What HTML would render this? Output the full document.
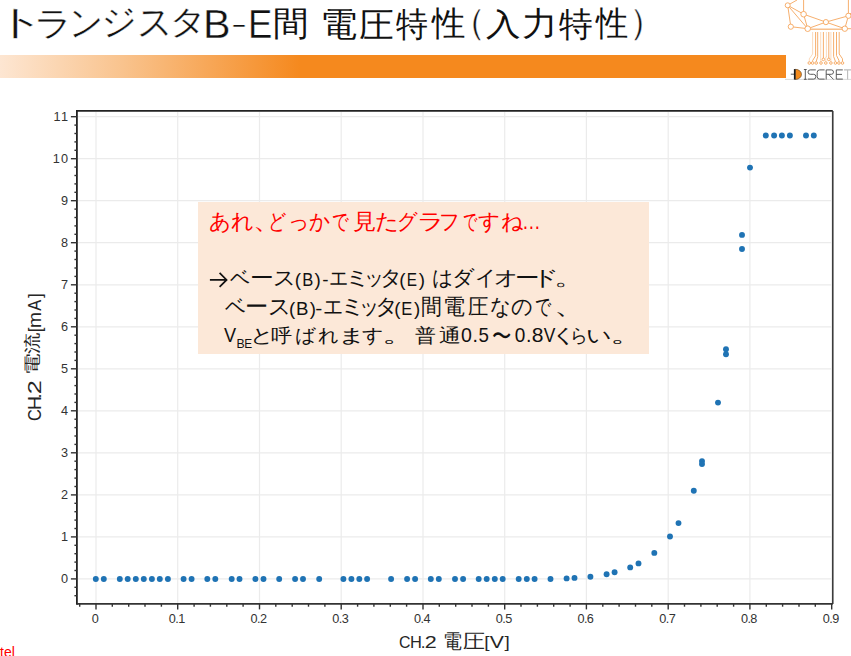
<!DOCTYPE html>
<html><head><meta charset="utf-8">
<style>
html,body{margin:0;padding:0;background:#fff;}
body{width:851px;height:656px;position:relative;overflow:hidden;font-family:"Liberation Sans",sans-serif;}
.abs{position:absolute;white-space:nowrap;}
.g{position:absolute;font-size:100px;line-height:1;white-space:pre;transform-origin:0 0;}
#title .g{color:#111;}
#title .k{-webkit-text-stroke:1px #fff;}
#bar{left:0;top:55px;width:786px;height:23px;background:linear-gradient(to right,#fde6d2 0px,#f9c48f 120px,#f5891e 300px,#f5891e 786px);}
#box{left:198px;top:202px;width:451px;height:152px;background:#fce8d8;}
svg{position:absolute;left:0;top:0;}
#tel{left:0;top:643.7px;font-size:14px;color:#ff0000;}
</style></head><body>
<div id="title"><span class="g k" style="left:-4.81px;top:4.44px;transform:matrix(0.4974,0,0,0.3506,0,0)">ト</span><span class="g k" style="left:33.91px;top:5.55px;transform:matrix(0.3808,0,0,0.3390,0,0)">ラ</span><span class="g k" style="left:68.64px;top:4.55px;transform:matrix(0.3354,0,0,0.3581,0,0)">ン</span><span class="g k" style="left:100.63px;top:3.32px;transform:matrix(0.3519,0,0,0.3598,0,0)">ジ</span><span class="g k" style="left:136.58px;top:2.65px;transform:matrix(0.3519,0,0,0.3794,0,0)">ス</span><span class="g k" style="left:168.52px;top:5.47px;transform:matrix(0.3732,0,0,0.3333,0,0)">タ</span><span class="g k" style="left:202.89px;top:3.36px;transform:matrix(0.4132,0,0,0.4087,0,0)">B</span><span class="g k" style="left:231.08px;top:10.52px;transform:matrix(0.4800,0,0,0.2625,0,0)">-</span><span class="g k" style="left:248.48px;top:3.36px;transform:matrix(0.3648,0,0,0.4087,0,0)">E</span><span class="g" style="left:273.13px;top:6.09px;transform:matrix(0.3616,0,0,0.3446,0,0)">間</span><span class="g" style="left:320.28px;top:6.67px;transform:matrix(0.3724,0,0,0.3389,0,0)">電</span><span class="g" style="left:358.95px;top:6.79px;transform:matrix(0.3484,0,0,0.3518,0,0)">圧</span><span class="g" style="left:395.90px;top:6.78px;transform:matrix(0.3206,0,0,0.3411,0,0)">特</span><span class="g" style="left:432.38px;top:6.42px;transform:matrix(0.3388,0,0,0.3447,0,0)">性</span><span class="g k" style="left:449.87px;top:2.73px;transform:matrix(0.3605,0,0,0.3605,0,0)">（</span><span class="g" style="left:486.01px;top:8.58px;transform:matrix(0.3457,0,0,0.3092,0,0)">入</span><span class="g" style="left:522.37px;top:6.60px;transform:matrix(0.3580,0,0,0.3340,0,0)">力</span><span class="g" style="left:559.00px;top:6.78px;transform:matrix(0.3381,0,0,0.3411,0,0)">特</span><span class="g" style="left:595.56px;top:6.42px;transform:matrix(0.3276,0,0,0.3447,0,0)">性</span><span class="g k" style="left:628.59px;top:2.73px;transform:matrix(0.3605,0,0,0.3605,0,0)">）</span></div>
<div id="bar" class="abs"></div>
<svg width="851" height="656" viewBox="0 0 851 656">
<line x1="96.0" y1="111.9" x2="96.0" y2="602.9" stroke="#ebebeb" stroke-width="1.2"/>
<line x1="177.7" y1="111.9" x2="177.7" y2="602.9" stroke="#ebebeb" stroke-width="1.2"/>
<line x1="259.5" y1="111.9" x2="259.5" y2="602.9" stroke="#ebebeb" stroke-width="1.2"/>
<line x1="341.2" y1="111.9" x2="341.2" y2="602.9" stroke="#ebebeb" stroke-width="1.2"/>
<line x1="423.0" y1="111.9" x2="423.0" y2="602.9" stroke="#ebebeb" stroke-width="1.2"/>
<line x1="504.7" y1="111.9" x2="504.7" y2="602.9" stroke="#ebebeb" stroke-width="1.2"/>
<line x1="586.4" y1="111.9" x2="586.4" y2="602.9" stroke="#ebebeb" stroke-width="1.2"/>
<line x1="668.2" y1="111.9" x2="668.2" y2="602.9" stroke="#ebebeb" stroke-width="1.2"/>
<line x1="749.9" y1="111.9" x2="749.9" y2="602.9" stroke="#ebebeb" stroke-width="1.2"/>
<line x1="831.7" y1="111.9" x2="831.7" y2="602.9" stroke="#ebebeb" stroke-width="1.2"/>
<line x1="77.9" y1="578.9" x2="831.8" y2="578.9" stroke="#ebebeb" stroke-width="1.2"/>
<line x1="77.9" y1="536.9" x2="831.8" y2="536.9" stroke="#ebebeb" stroke-width="1.2"/>
<line x1="77.9" y1="494.9" x2="831.8" y2="494.9" stroke="#ebebeb" stroke-width="1.2"/>
<line x1="77.9" y1="452.8" x2="831.8" y2="452.8" stroke="#ebebeb" stroke-width="1.2"/>
<line x1="77.9" y1="410.8" x2="831.8" y2="410.8" stroke="#ebebeb" stroke-width="1.2"/>
<line x1="77.9" y1="368.8" x2="831.8" y2="368.8" stroke="#ebebeb" stroke-width="1.2"/>
<line x1="77.9" y1="326.8" x2="831.8" y2="326.8" stroke="#ebebeb" stroke-width="1.2"/>
<line x1="77.9" y1="284.8" x2="831.8" y2="284.8" stroke="#ebebeb" stroke-width="1.2"/>
<line x1="77.9" y1="242.7" x2="831.8" y2="242.7" stroke="#ebebeb" stroke-width="1.2"/>
<line x1="77.9" y1="200.7" x2="831.8" y2="200.7" stroke="#ebebeb" stroke-width="1.2"/>
<line x1="77.9" y1="158.7" x2="831.8" y2="158.7" stroke="#ebebeb" stroke-width="1.2"/>
<line x1="77.9" y1="116.7" x2="831.8" y2="116.7" stroke="#ebebeb" stroke-width="1.2"/>
</svg>
<div id="box" class="abs"></div>
<svg width="851" height="656" viewBox="0 0 851 656">
<line x1="76.9" y1="110.9" x2="832.8" y2="110.9" stroke="#222" stroke-width="1.6"/>
<line x1="832.8" y1="110.9" x2="832.8" y2="603.9" stroke="#333" stroke-width="1.5"/>
<line x1="76.9" y1="110.1" x2="76.9" y2="604.7" stroke="#222" stroke-width="1.8"/>
<line x1="76.9" y1="603.9" x2="832.8" y2="603.9" stroke="#333" stroke-width="1.6"/>
<line x1="74.4" y1="595.7" x2="76.9" y2="595.7" stroke="#333" stroke-width="1.4"/>
<line x1="74.4" y1="587.3" x2="76.9" y2="587.3" stroke="#333" stroke-width="1.4"/>
<line x1="70.9" y1="578.9" x2="76.9" y2="578.9" stroke="#333" stroke-width="1.4"/>
<line x1="74.4" y1="570.5" x2="76.9" y2="570.5" stroke="#333" stroke-width="1.4"/>
<line x1="74.4" y1="562.1" x2="76.9" y2="562.1" stroke="#333" stroke-width="1.4"/>
<line x1="74.4" y1="553.7" x2="76.9" y2="553.7" stroke="#333" stroke-width="1.4"/>
<line x1="74.4" y1="545.3" x2="76.9" y2="545.3" stroke="#333" stroke-width="1.4"/>
<line x1="70.9" y1="536.9" x2="76.9" y2="536.9" stroke="#333" stroke-width="1.4"/>
<line x1="74.4" y1="528.5" x2="76.9" y2="528.5" stroke="#333" stroke-width="1.4"/>
<line x1="74.4" y1="520.1" x2="76.9" y2="520.1" stroke="#333" stroke-width="1.4"/>
<line x1="74.4" y1="511.7" x2="76.9" y2="511.7" stroke="#333" stroke-width="1.4"/>
<line x1="74.4" y1="503.3" x2="76.9" y2="503.3" stroke="#333" stroke-width="1.4"/>
<line x1="70.9" y1="494.9" x2="76.9" y2="494.9" stroke="#333" stroke-width="1.4"/>
<line x1="74.4" y1="486.5" x2="76.9" y2="486.5" stroke="#333" stroke-width="1.4"/>
<line x1="74.4" y1="478.1" x2="76.9" y2="478.1" stroke="#333" stroke-width="1.4"/>
<line x1="74.4" y1="469.6" x2="76.9" y2="469.6" stroke="#333" stroke-width="1.4"/>
<line x1="74.4" y1="461.2" x2="76.9" y2="461.2" stroke="#333" stroke-width="1.4"/>
<line x1="70.9" y1="452.8" x2="76.9" y2="452.8" stroke="#333" stroke-width="1.4"/>
<line x1="74.4" y1="444.4" x2="76.9" y2="444.4" stroke="#333" stroke-width="1.4"/>
<line x1="74.4" y1="436.0" x2="76.9" y2="436.0" stroke="#333" stroke-width="1.4"/>
<line x1="74.4" y1="427.6" x2="76.9" y2="427.6" stroke="#333" stroke-width="1.4"/>
<line x1="74.4" y1="419.2" x2="76.9" y2="419.2" stroke="#333" stroke-width="1.4"/>
<line x1="70.9" y1="410.8" x2="76.9" y2="410.8" stroke="#333" stroke-width="1.4"/>
<line x1="74.4" y1="402.4" x2="76.9" y2="402.4" stroke="#333" stroke-width="1.4"/>
<line x1="74.4" y1="394.0" x2="76.9" y2="394.0" stroke="#333" stroke-width="1.4"/>
<line x1="74.4" y1="385.6" x2="76.9" y2="385.6" stroke="#333" stroke-width="1.4"/>
<line x1="74.4" y1="377.2" x2="76.9" y2="377.2" stroke="#333" stroke-width="1.4"/>
<line x1="70.9" y1="368.8" x2="76.9" y2="368.8" stroke="#333" stroke-width="1.4"/>
<line x1="74.4" y1="360.4" x2="76.9" y2="360.4" stroke="#333" stroke-width="1.4"/>
<line x1="74.4" y1="352.0" x2="76.9" y2="352.0" stroke="#333" stroke-width="1.4"/>
<line x1="74.4" y1="343.6" x2="76.9" y2="343.6" stroke="#333" stroke-width="1.4"/>
<line x1="74.4" y1="335.2" x2="76.9" y2="335.2" stroke="#333" stroke-width="1.4"/>
<line x1="70.9" y1="326.8" x2="76.9" y2="326.8" stroke="#333" stroke-width="1.4"/>
<line x1="74.4" y1="318.4" x2="76.9" y2="318.4" stroke="#333" stroke-width="1.4"/>
<line x1="74.4" y1="310.0" x2="76.9" y2="310.0" stroke="#333" stroke-width="1.4"/>
<line x1="74.4" y1="301.6" x2="76.9" y2="301.6" stroke="#333" stroke-width="1.4"/>
<line x1="74.4" y1="293.2" x2="76.9" y2="293.2" stroke="#333" stroke-width="1.4"/>
<line x1="70.9" y1="284.8" x2="76.9" y2="284.8" stroke="#333" stroke-width="1.4"/>
<line x1="74.4" y1="276.4" x2="76.9" y2="276.4" stroke="#333" stroke-width="1.4"/>
<line x1="74.4" y1="268.0" x2="76.9" y2="268.0" stroke="#333" stroke-width="1.4"/>
<line x1="74.4" y1="259.5" x2="76.9" y2="259.5" stroke="#333" stroke-width="1.4"/>
<line x1="74.4" y1="251.1" x2="76.9" y2="251.1" stroke="#333" stroke-width="1.4"/>
<line x1="70.9" y1="242.7" x2="76.9" y2="242.7" stroke="#333" stroke-width="1.4"/>
<line x1="74.4" y1="234.3" x2="76.9" y2="234.3" stroke="#333" stroke-width="1.4"/>
<line x1="74.4" y1="225.9" x2="76.9" y2="225.9" stroke="#333" stroke-width="1.4"/>
<line x1="74.4" y1="217.5" x2="76.9" y2="217.5" stroke="#333" stroke-width="1.4"/>
<line x1="74.4" y1="209.1" x2="76.9" y2="209.1" stroke="#333" stroke-width="1.4"/>
<line x1="70.9" y1="200.7" x2="76.9" y2="200.7" stroke="#333" stroke-width="1.4"/>
<line x1="74.4" y1="192.3" x2="76.9" y2="192.3" stroke="#333" stroke-width="1.4"/>
<line x1="74.4" y1="183.9" x2="76.9" y2="183.9" stroke="#333" stroke-width="1.4"/>
<line x1="74.4" y1="175.5" x2="76.9" y2="175.5" stroke="#333" stroke-width="1.4"/>
<line x1="74.4" y1="167.1" x2="76.9" y2="167.1" stroke="#333" stroke-width="1.4"/>
<line x1="70.9" y1="158.7" x2="76.9" y2="158.7" stroke="#333" stroke-width="1.4"/>
<line x1="74.4" y1="150.3" x2="76.9" y2="150.3" stroke="#333" stroke-width="1.4"/>
<line x1="74.4" y1="141.9" x2="76.9" y2="141.9" stroke="#333" stroke-width="1.4"/>
<line x1="74.4" y1="133.5" x2="76.9" y2="133.5" stroke="#333" stroke-width="1.4"/>
<line x1="74.4" y1="125.1" x2="76.9" y2="125.1" stroke="#333" stroke-width="1.4"/>
<line x1="70.9" y1="116.7" x2="76.9" y2="116.7" stroke="#333" stroke-width="1.4"/>
<line x1="79.7" y1="603.9" x2="79.7" y2="606.7" stroke="#333" stroke-width="1.4"/>
<line x1="96.0" y1="603.9" x2="96.0" y2="609.4" stroke="#333" stroke-width="1.4"/>
<line x1="112.3" y1="603.9" x2="112.3" y2="606.7" stroke="#333" stroke-width="1.4"/>
<line x1="128.7" y1="603.9" x2="128.7" y2="606.7" stroke="#333" stroke-width="1.4"/>
<line x1="145.0" y1="603.9" x2="145.0" y2="606.7" stroke="#333" stroke-width="1.4"/>
<line x1="161.4" y1="603.9" x2="161.4" y2="606.7" stroke="#333" stroke-width="1.4"/>
<line x1="177.7" y1="603.9" x2="177.7" y2="609.4" stroke="#333" stroke-width="1.4"/>
<line x1="194.1" y1="603.9" x2="194.1" y2="606.7" stroke="#333" stroke-width="1.4"/>
<line x1="210.4" y1="603.9" x2="210.4" y2="606.7" stroke="#333" stroke-width="1.4"/>
<line x1="226.8" y1="603.9" x2="226.8" y2="606.7" stroke="#333" stroke-width="1.4"/>
<line x1="243.1" y1="603.9" x2="243.1" y2="606.7" stroke="#333" stroke-width="1.4"/>
<line x1="259.5" y1="603.9" x2="259.5" y2="609.4" stroke="#333" stroke-width="1.4"/>
<line x1="275.8" y1="603.9" x2="275.8" y2="606.7" stroke="#333" stroke-width="1.4"/>
<line x1="292.2" y1="603.9" x2="292.2" y2="606.7" stroke="#333" stroke-width="1.4"/>
<line x1="308.5" y1="603.9" x2="308.5" y2="606.7" stroke="#333" stroke-width="1.4"/>
<line x1="324.9" y1="603.9" x2="324.9" y2="606.7" stroke="#333" stroke-width="1.4"/>
<line x1="341.2" y1="603.9" x2="341.2" y2="609.4" stroke="#333" stroke-width="1.4"/>
<line x1="357.6" y1="603.9" x2="357.6" y2="606.7" stroke="#333" stroke-width="1.4"/>
<line x1="373.9" y1="603.9" x2="373.9" y2="606.7" stroke="#333" stroke-width="1.4"/>
<line x1="390.3" y1="603.9" x2="390.3" y2="606.7" stroke="#333" stroke-width="1.4"/>
<line x1="406.6" y1="603.9" x2="406.6" y2="606.7" stroke="#333" stroke-width="1.4"/>
<line x1="423.0" y1="603.9" x2="423.0" y2="609.4" stroke="#333" stroke-width="1.4"/>
<line x1="439.3" y1="603.9" x2="439.3" y2="606.7" stroke="#333" stroke-width="1.4"/>
<line x1="455.7" y1="603.9" x2="455.7" y2="606.7" stroke="#333" stroke-width="1.4"/>
<line x1="472.0" y1="603.9" x2="472.0" y2="606.7" stroke="#333" stroke-width="1.4"/>
<line x1="488.4" y1="603.9" x2="488.4" y2="606.7" stroke="#333" stroke-width="1.4"/>
<line x1="504.7" y1="603.9" x2="504.7" y2="609.4" stroke="#333" stroke-width="1.4"/>
<line x1="521.0" y1="603.9" x2="521.0" y2="606.7" stroke="#333" stroke-width="1.4"/>
<line x1="537.4" y1="603.9" x2="537.4" y2="606.7" stroke="#333" stroke-width="1.4"/>
<line x1="553.7" y1="603.9" x2="553.7" y2="606.7" stroke="#333" stroke-width="1.4"/>
<line x1="570.1" y1="603.9" x2="570.1" y2="606.7" stroke="#333" stroke-width="1.4"/>
<line x1="586.4" y1="603.9" x2="586.4" y2="609.4" stroke="#333" stroke-width="1.4"/>
<line x1="602.8" y1="603.9" x2="602.8" y2="606.7" stroke="#333" stroke-width="1.4"/>
<line x1="619.1" y1="603.9" x2="619.1" y2="606.7" stroke="#333" stroke-width="1.4"/>
<line x1="635.5" y1="603.9" x2="635.5" y2="606.7" stroke="#333" stroke-width="1.4"/>
<line x1="651.8" y1="603.9" x2="651.8" y2="606.7" stroke="#333" stroke-width="1.4"/>
<line x1="668.2" y1="603.9" x2="668.2" y2="609.4" stroke="#333" stroke-width="1.4"/>
<line x1="684.5" y1="603.9" x2="684.5" y2="606.7" stroke="#333" stroke-width="1.4"/>
<line x1="700.9" y1="603.9" x2="700.9" y2="606.7" stroke="#333" stroke-width="1.4"/>
<line x1="717.2" y1="603.9" x2="717.2" y2="606.7" stroke="#333" stroke-width="1.4"/>
<line x1="733.6" y1="603.9" x2="733.6" y2="606.7" stroke="#333" stroke-width="1.4"/>
<line x1="749.9" y1="603.9" x2="749.9" y2="609.4" stroke="#333" stroke-width="1.4"/>
<line x1="766.3" y1="603.9" x2="766.3" y2="606.7" stroke="#333" stroke-width="1.4"/>
<line x1="782.6" y1="603.9" x2="782.6" y2="606.7" stroke="#333" stroke-width="1.4"/>
<line x1="799.0" y1="603.9" x2="799.0" y2="606.7" stroke="#333" stroke-width="1.4"/>
<line x1="815.3" y1="603.9" x2="815.3" y2="606.7" stroke="#333" stroke-width="1.4"/>
<line x1="831.7" y1="603.9" x2="831.7" y2="609.4" stroke="#333" stroke-width="1.4"/>
<g style="font-family:'Liberation Sans',sans-serif;font-size:12.7px" fill="#333">
<text x="68" y="583.0" text-anchor="end">0</text>
<text x="68" y="541.0" text-anchor="end">1</text>
<text x="68" y="499.0" text-anchor="end">2</text>
<text x="68" y="456.9" text-anchor="end">3</text>
<text x="68" y="414.9" text-anchor="end">4</text>
<text x="68" y="372.9" text-anchor="end">5</text>
<text x="68" y="330.9" text-anchor="end">6</text>
<text x="68" y="288.9" text-anchor="end">7</text>
<text x="68" y="246.8" text-anchor="end">8</text>
<text x="68" y="204.8" text-anchor="end">9</text>
<text x="69.2" y="162.8" text-anchor="end" letter-spacing="1.2">10</text>
<text x="69.2" y="120.8" text-anchor="end" letter-spacing="1.2">11</text>
<text x="95.0" y="623.4" text-anchor="middle" letter-spacing="-0.6">0</text>
<text x="176.7" y="623.4" text-anchor="middle" letter-spacing="-0.6">0.1</text>
<text x="258.5" y="623.4" text-anchor="middle" letter-spacing="-0.6">0.2</text>
<text x="340.2" y="623.4" text-anchor="middle" letter-spacing="-0.6">0.3</text>
<text x="422.0" y="623.4" text-anchor="middle" letter-spacing="-0.6">0.4</text>
<text x="503.7" y="623.4" text-anchor="middle" letter-spacing="-0.6">0.5</text>
<text x="585.4" y="623.4" text-anchor="middle" letter-spacing="-0.6">0.6</text>
<text x="667.2" y="623.4" text-anchor="middle" letter-spacing="-0.6">0.7</text>
<text x="748.9" y="623.4" text-anchor="middle" letter-spacing="-0.6">0.8</text>
<text x="830.7" y="623.4" text-anchor="middle" letter-spacing="-0.6">0.9</text>
</g>
<g fill="#1f73b4"><circle cx="95.8" cy="579.0" r="2.95"/><circle cx="103.8" cy="579.0" r="2.95"/><circle cx="119.8" cy="579.0" r="2.95"/><circle cx="127.7" cy="579.0" r="2.95"/><circle cx="135.8" cy="579.0" r="2.95"/><circle cx="143.8" cy="579.0" r="2.95"/><circle cx="151.9" cy="579.0" r="2.95"/><circle cx="159.8" cy="579.0" r="2.95"/><circle cx="167.9" cy="579.0" r="2.95"/><circle cx="183.6" cy="579.0" r="2.95"/><circle cx="191.6" cy="579.0" r="2.95"/><circle cx="207.3" cy="579.0" r="2.95"/><circle cx="215.3" cy="579.0" r="2.95"/><circle cx="231.7" cy="579.0" r="2.95"/><circle cx="239.5" cy="579.0" r="2.95"/><circle cx="255.4" cy="579.0" r="2.95"/><circle cx="263.5" cy="579.0" r="2.95"/><circle cx="279.2" cy="579.0" r="2.95"/><circle cx="295.1" cy="579.0" r="2.95"/><circle cx="303.0" cy="579.0" r="2.95"/><circle cx="319.2" cy="579.0" r="2.95"/><circle cx="343.4" cy="579.0" r="2.95"/><circle cx="351.4" cy="579.0" r="2.95"/><circle cx="359.3" cy="579.0" r="2.95"/><circle cx="367.1" cy="579.0" r="2.95"/><circle cx="391.1" cy="579.0" r="2.95"/><circle cx="407.1" cy="579.0" r="2.95"/><circle cx="415.1" cy="579.0" r="2.95"/><circle cx="430.8" cy="579.0" r="2.95"/><circle cx="438.8" cy="579.0" r="2.95"/><circle cx="455.0" cy="579.0" r="2.95"/><circle cx="463.1" cy="579.0" r="2.95"/><circle cx="478.7" cy="579.0" r="2.95"/><circle cx="486.7" cy="579.0" r="2.95"/><circle cx="494.8" cy="579.0" r="2.95"/><circle cx="502.7" cy="579.0" r="2.95"/><circle cx="518.7" cy="579.0" r="2.95"/><circle cx="526.8" cy="579.0" r="2.95"/><circle cx="534.6" cy="579.0" r="2.95"/><circle cx="550.5" cy="579.0" r="2.95"/><circle cx="566.6" cy="578.4" r="2.95"/><circle cx="574.5" cy="577.9" r="2.95"/><circle cx="590.4" cy="576.8" r="2.95"/><circle cx="606.6" cy="574.3" r="2.95"/><circle cx="614.6" cy="572.3" r="2.95"/><circle cx="630.2" cy="567.4" r="2.95"/><circle cx="638.5" cy="563.4" r="2.95"/><circle cx="654.3" cy="552.9" r="2.95"/><circle cx="670.0" cy="536.5" r="2.95"/><circle cx="678.5" cy="523.1" r="2.95"/><circle cx="693.8" cy="490.8" r="2.95"/><circle cx="702.0" cy="461.1" r="2.95"/><circle cx="702.0" cy="464.1" r="2.95"/><circle cx="718.0" cy="402.6" r="2.95"/><circle cx="726.0" cy="349.2" r="2.95"/><circle cx="726.0" cy="354.3" r="2.95"/><circle cx="742.0" cy="234.9" r="2.95"/><circle cx="742.0" cy="249.0" r="2.95"/><circle cx="750.0" cy="167.6" r="2.95"/><circle cx="765.8" cy="135.5" r="2.95"/><circle cx="774.1" cy="135.5" r="2.95"/><circle cx="781.9" cy="135.5" r="2.95"/><circle cx="789.9" cy="135.5" r="2.95"/><circle cx="806.0" cy="135.5" r="2.95"/><circle cx="813.8" cy="135.5" r="2.95"/></g>
<g fill="#ff0000" style="font-family:'Liberation Sans',sans-serif;font-size:100px"><text transform="matrix(0.2118 0 0 0.2161 208.63 228.61)">あ</text><text transform="matrix(0.2181 0 0 0.2161 230.75 228.61)">れ</text><text transform="matrix(0.2800 0 0 0.2161 253.00 228.61)">、</text><text transform="matrix(0.1771 0 0 0.2161 267.77 228.61)">ど</text><text transform="matrix(0.2070 0 0 0.2161 287.60 228.61)">っ</text><text transform="matrix(0.2042 0 0 0.2161 308.69 228.61)">か</text><text transform="matrix(0.1619 0 0 0.2161 331.99 228.61)">で</text><text transform="matrix(0.2289 0 0 0.2161 352.88 228.61)">見</text><text transform="matrix(0.2310 0 0 0.2161 374.71 228.61)">た</text><text transform="matrix(0.1989 0 0 0.2161 397.01 228.61)">グ</text><text transform="matrix(0.2658 0 0 0.2161 416.68 228.61)">ラ</text><text transform="matrix(0.2026 0 0 0.2161 439.17 228.61)">フ</text><text transform="matrix(0.1392 0 0 0.2161 462.80 228.61)">で</text><text transform="matrix(0.2132 0 0 0.2161 477.77 228.61)">す</text><text transform="matrix(0.2168 0 0 0.2161 500.62 228.61)">ね</text><text transform="matrix(0.1875 0 0 0.2161 521.98 228.61)">…</text></g><g fill="#111" style="font-family:'Liberation Sans',sans-serif;font-size:100px"><text transform="matrix(0.1979 0 0 0.2092 230.10 285.18)">ベ</text><text transform="matrix(0.2366 0 0 0.2092 249.87 285.18)">ー</text><text transform="matrix(0.2228 0 0 0.2092 273.12 285.18)">ス</text><text transform="matrix(0.1884 0 0 0.1884 294.87 286.20)">(</text><text transform="matrix(0.1660 0 0 0.1884 302.17 286.20)">B</text><text transform="matrix(0.1884 0 0 0.1884 314.41 286.20)">)</text><text transform="matrix(0.1880 0 0 0.1884 322.15 286.20)">-</text><text transform="matrix(0.1907 0 0 0.2092 328.67 285.18)">エ</text><text transform="matrix(0.2653 0 0 0.2092 344.13 285.18)">ミ</text><text transform="matrix(0.1985 0 0 0.2092 364.42 285.18)">ッ</text><text transform="matrix(0.2155 0 0 0.2092 380.21 285.18)">タ</text><text transform="matrix(0.1884 0 0 0.1884 399.37 286.20)">(</text><text transform="matrix(0.1537 0 0 0.1884 406.67 286.20)">E</text><text transform="matrix(0.1884 0 0 0.1884 418.81 286.20)">)</text><text transform="matrix(0.2071 0 0 0.2092 431.75 285.18)">は</text><text transform="matrix(0.2198 0 0 0.2092 452.48 285.18)">ダ</text><text transform="matrix(0.2054 0 0 0.2092 475.45 285.18)">イ</text><text transform="matrix(0.2366 0 0 0.2092 493.88 285.18)">オ</text><text transform="matrix(0.2439 0 0 0.2092 515.40 285.18)">ー</text><text transform="matrix(0.2647 0 0 0.2092 531.57 285.18)">ド</text><text transform="matrix(0.3182 0 0 0.2092 554.42 285.18)">。</text></g><g fill="#111" style="font-family:'Liberation Sans',sans-serif;font-size:100px"><text transform="matrix(0.2042 0 0 0.2178 224.50 314.20)">ベ</text><text transform="matrix(0.2293 0 0 0.2178 244.94 314.20)">ー</text><text transform="matrix(0.2228 0 0 0.2178 267.62 314.20)">ス</text><text transform="matrix(0.1870 0 0 0.1870 289.00 314.70)">(</text><text transform="matrix(0.1868 0 0 0.1870 296.11 314.70)">B</text><text transform="matrix(0.1870 0 0 0.1870 309.63 314.70)">)</text><text transform="matrix(0.2120 0 0 0.1870 315.35 314.70)">-</text><text transform="matrix(0.1977 0 0 0.2178 323.02 314.20)">エ</text><text transform="matrix(0.2633 0 0 0.2178 338.68 314.20)">ミ</text><text transform="matrix(0.1985 0 0 0.2178 358.82 314.20)">ッ</text><text transform="matrix(0.2225 0 0 0.2178 374.63 314.20)">タ</text><text transform="matrix(0.1870 0 0 0.1870 394.30 314.70)">(</text><text transform="matrix(0.1648 0 0 0.1870 401.18 314.70)">E</text><text transform="matrix(0.1870 0 0 0.1870 414.03 314.70)">)</text><text transform="matrix(0.2070 0 0 0.2178 421.06 314.20)">間</text><text transform="matrix(0.2184 0 0 0.2178 442.92 314.20)">電</text><text transform="matrix(0.2011 0 0 0.2178 468.00 314.20)">圧</text><text transform="matrix(0.2023 0 0 0.2178 489.89 314.20)">な</text><text transform="matrix(0.2109 0 0 0.2178 510.56 314.20)">の</text><text transform="matrix(0.1577 0 0 0.2178 535.31 314.20)">で</text><text transform="matrix(0.3200 0 0 0.2178 553.50 314.20)">、</text></g><g fill="#111" style="font-family:'Liberation Sans',sans-serif;font-size:100px"><text transform="matrix(0.1815 0 0 0.1957 223.92 341.80)">V</text><text transform="matrix(0.1226 0 0 0.1275 236.62 348.30)">B</text><text transform="matrix(0.1185 0 0 0.1275 244.35 348.30)">E</text><text transform="matrix(0.2371 0 0 0.1930 250.07 342.00)">と</text><text transform="matrix(0.2151 0 0 0.1930 270.84 342.00)">呼</text><text transform="matrix(0.2084 0 0 0.1930 294.94 342.00)">ば</text><text transform="matrix(0.2064 0 0 0.1930 318.48 342.00)">れ</text><text transform="matrix(0.2750 0 0 0.1930 337.97 342.00)">ま</text><text transform="matrix(0.2132 0 0 0.1930 362.17 342.00)">す</text><text transform="matrix(0.3455 0 0 0.1930 382.05 342.00)">。</text><text transform="matrix(0.2128 0 0 0.1930 415.47 342.00)">普</text><text transform="matrix(0.2222 0 0 0.1930 438.73 342.00)">通</text><text transform="matrix(0.1958 0 0 0.1957 460.92 341.80)">0</text><text transform="matrix(0.1957 0 0 0.1957 472.46 341.80)">.</text><text transform="matrix(0.1872 0 0 0.1957 478.55 341.80)">5</text><text transform="matrix(0.1911 0 0 0.2269 492.44 343.97)">〜</text><text transform="matrix(0.1896 0 0 0.1957 514.84 341.80)">0</text><text transform="matrix(0.1957 0 0 0.1957 525.91 341.80)">.</text><text transform="matrix(0.2106 0 0 0.1957 531.66 341.80)">8</text><text transform="matrix(0.1738 0 0 0.1957 543.63 341.80)">V</text><text transform="matrix(0.2585 0 0 0.1930 551.18 342.00)">く</text><text transform="matrix(0.1791 0 0 0.1930 569.66 342.00)">ら</text><text transform="matrix(0.2547 0 0 0.1930 585.91 342.00)">い</text><text transform="matrix(0.3545 0 0 0.1930 610.05 342.00)">。</text></g><path d="M209.9 279.9H226.4M219.6 272.9L226.6 279.9L219.6 286.9" fill="none" stroke="#111" stroke-width="1.7"/>
<g fill="#262626" style="font-family:'Liberation Sans',sans-serif;font-size:100px"><text transform="matrix(0.1587 0 0 0.1718 399.11 647.73)">C</text><text transform="matrix(0.1643 0 0 0.1718 410.09 647.73)">H</text><text transform="matrix(0.1718 0 0 0.1718 420.79 647.73)">.</text><text transform="matrix(0.2152 0 0 0.1718 424.82 647.73)">2</text><text transform="matrix(0.1931 0 0 0.2033 443.07 647.96)">電</text><text transform="matrix(0.2226 0 0 0.2033 462.63 647.96)">圧</text><text transform="matrix(0.1900 0 0 0.1718 484.17 647.73)">[</text><text transform="matrix(0.2123 0 0 0.1718 489.79 647.73)">V</text><text transform="matrix(0.1900 0 0 0.1718 504.41 647.73)">]</text></g><g transform="matrix(0 -1 1 0 0 656)"><g fill="#262626" style="font-family:'Liberation Sans',sans-serif;font-size:100px"><text transform="matrix(0.1635 0 0 0.1803 234.88 40.62)">C</text><text transform="matrix(0.1982 0 0 0.1803 245.71 40.62)">H</text><text transform="matrix(0.1803 0 0 0.1803 257.48 40.62)">.</text><text transform="matrix(0.2522 0 0 0.1803 261.64 40.62)">2</text><text transform="matrix(0.2115 0 0 0.1656 281.49 37.68)">電</text><text transform="matrix(0.2094 0 0 0.1656 301.98 37.68)">流</text><text transform="matrix(0.1700 0 0 0.1803 323.81 40.62)">[</text><text transform="matrix(0.1914 0 0 0.1803 328.06 40.62)">m</text><text transform="matrix(0.1636 0 0 0.1803 345.30 40.62)">A</text><text transform="matrix(0.1750 0 0 0.1803 357.93 40.62)">]</text></g></g>
<g stroke="#f5a65e" stroke-width="0.9" fill="none">
<line x1="787.7" y1="5.3" x2="803.6" y2="14.2"/>
<line x1="787.7" y1="5.3" x2="790.8" y2="26.7"/>
<line x1="787.7" y1="5.3" x2="807.7" y2="28.7"/>
<line x1="803.6" y1="14.2" x2="807.7" y2="28.7"/>
<line x1="803.6" y1="14.2" x2="825.9" y2="22.1"/>
<line x1="790.8" y1="26.7" x2="807.7" y2="28.7"/>
<line x1="807.7" y1="28.7" x2="825.9" y2="22.1"/>
<line x1="825.9" y1="22.1" x2="844.8" y2="28.7"/>
<line x1="825.9" y1="22.1" x2="848.4" y2="15.8"/>
<line x1="848.4" y1="15.8" x2="844.8" y2="28.7"/>
<line x1="787.7" y1="5.3" x2="797" y2="0"/>
<line x1="803.6" y1="14.2" x2="803.6" y2="0"/>
<line x1="848.4" y1="15.8" x2="848.4" y2="0"/>
<line x1="844.8" y1="28.7" x2="851" y2="28.7"/>
<line x1="848.4" y1="15.8" x2="851" y2="13"/>
<line x1="807.7" y1="29.2" x2="844.8" y2="29.2" stroke-width="1.6" stroke-opacity="0.7"/>
<circle cx="787.7" cy="5.3" r="2.5" fill="#fff"/>
<circle cx="803.6" cy="14.2" r="2.8" fill="#fff"/>
<circle cx="790.8" cy="26.7" r="2.6" fill="#fff"/>
<circle cx="807.7" cy="28.7" r="2.8" fill="#fff"/>
<circle cx="825.9" cy="22.1" r="2.6" fill="#fff"/>
<circle cx="848.4" cy="15.8" r="2.6" fill="#fff"/>
<circle cx="844.8" cy="28.7" r="2.7" fill="#fff"/>
<path d="M812.6 32V54.0L809.3 58.8V61.7" stroke-opacity="0.45"/>
<circle cx="809.3" cy="63" r="1.3" fill="#fff"/>
<path d="M815.6 32V55.8L812.6 60.599999999999994V61.7" stroke-opacity="1"/>
<circle cx="812.6" cy="63" r="1.3" fill="#fff"/>
<path d="M817.7 32V56.7L816.2 61.5V61.7" stroke-opacity="1"/>
<circle cx="816.2" cy="63" r="1.3" fill="#fff"/>
<path d="M820.7 32V60L821 60V61.7" stroke-opacity="0.45"/>
<circle cx="821" cy="63" r="1.3" fill="#fff"/>
<path d="M823.4 32V60L823.4 60V58.1" stroke-opacity="1"/>
<circle cx="823.4" cy="59.4" r="1.3" fill="#fff"/>
<path d="M826.4 32V57L825.8 57V61.7" stroke-opacity="0.45"/>
<circle cx="825.8" cy="63" r="1.3" fill="#fff"/>
<path d="M828.8 32V60L828.8 60V58.1" stroke-opacity="1"/>
<circle cx="828.8" cy="59.4" r="1.3" fill="#fff"/>
<path d="M830.9 32V60L830.9 60V61.7" stroke-opacity="0.45"/>
<circle cx="830.9" cy="63" r="1.3" fill="#fff"/>
<path d="M833.6 32V56.5L835.4 61.3V61.7" stroke-opacity="1"/>
<circle cx="835.4" cy="63" r="1.3" fill="#fff"/>
<path d="M836.5 32V55.5L838.9 60.3V61.7" stroke-opacity="1"/>
<circle cx="838.9" cy="63" r="1.3" fill="#fff"/>
<path d="M839.2 32V54L842.5 58.8V61.7" stroke-opacity="1"/>
<circle cx="842.5" cy="63" r="1.3" fill="#fff"/>
</g>
<line x1="785" y1="79.4" x2="851" y2="79.4" stroke="#d0d0d0" stroke-width="0.8"/>
<g fill="none" stroke="#4a4a4a" stroke-width="0.9">
<line x1="790.8" y1="74.2" x2="794" y2="74.2"/>
<path d="M795.4 69.3A6.1 5.1 0 0 1 795.4 79.5Z" fill="#f28a1c" stroke="#5a3a1a" stroke-width="0.6"/>
<rect x="793.9" y="69.1" width="1.6" height="10.5" fill="#1a1a1a" stroke="none"/>
<path d="M803.9 69.5H806.7M805.3 69.5V79.3M803.9 79.3H806.7"/>
<path d="M815.8 69.9H810.3Q808 69.9 808 72.1Q808 74.3 810.3 74.3H813.6Q815.9 74.3 815.9 76.7Q815.9 79.1 813.6 79.1H807.8"/>
<path d="M824.6 69.9H819.6Q817.2 69.9 817.2 72.4V76.6Q817.2 79.1 819.6 79.1H824.6"/>
<path d="M826.2 79.5V69.9H831.3Q833.5 69.9 833.5 72.1Q833.5 74.3 831.3 74.3H826.2M828.5 74.3L833.6 79.5"/>
<path d="M842.8 69.9H836.3V79.1H842.8M836.3 74.4H842"/>
</g>
<path d="M844 69.9H851M847.6 69.9V79.5" stroke="#bdbdbd" stroke-width="1.1" fill="none"/>
</svg>
<div id="tel" class="abs">tel</div>
</body></html>
